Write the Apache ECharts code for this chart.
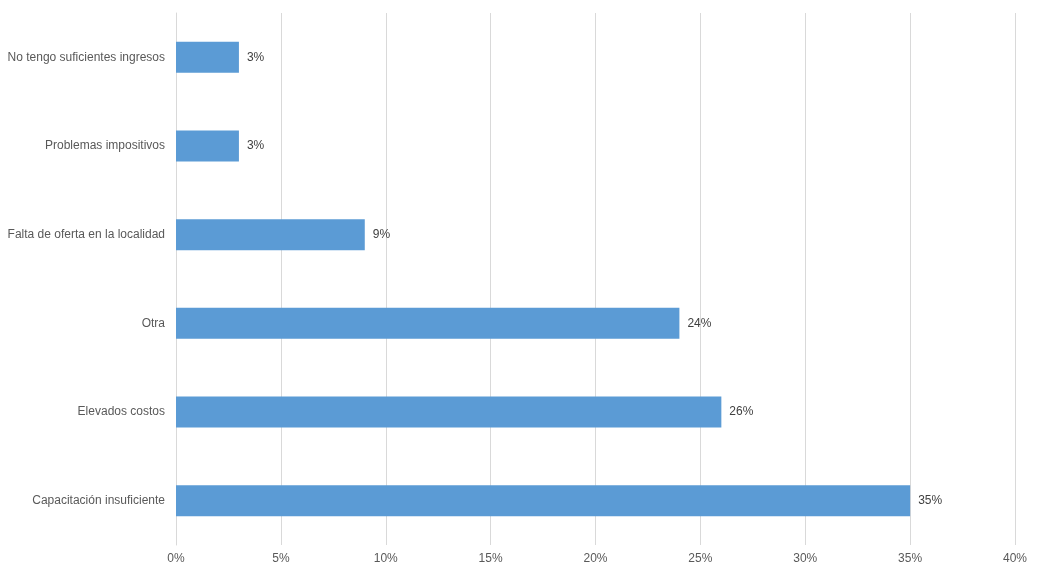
<!DOCTYPE html>
<html>
<head>
<meta charset="utf-8">
<script src="https://cdn.jsdelivr.net/npm/echarts@6/dist/echarts.min.js"></script>
<style>
html,body{margin:0;padding:0;background:#fff;}
#chart{width:1040px;height:573px;}
</style>
</head>
<body>
<div id="chart"></div>
<script>
const categories = [
  "No tengo suficientes ingresos",
  "Problemas impositivos",
  "Falta de oferta en la localidad",
  "Otra",
  "Elevados costos",
  "Capacitación insuficiente"
];
const values = [3, 3, 9, 24, 26, 35];
const xTicks = { min: 0, max: 40, interval: 5 };

const chart = echarts.init(document.getElementById('chart'), null, {renderer: 'canvas'});
const font = 'Liberation Sans, Arial, sans-serif';
chart.setOption({
  animation: false,
  grid: { left: 176, right: 25, top: 13, bottom: 28, containLabel: false },
  xAxis: {
    type: 'value',
    min: xTicks.min, max: xTicks.max, interval: xTicks.interval,
    axisLine: { show: false },
    axisTick: { show: false },
    splitLine: { show: true, lineStyle: { color: '#D9D9D9', width: 1 } },
    axisLabel: { formatter: '{value}%', color: '#595959', fontSize: 12, fontFamily: font, margin: 8 }
  },
  yAxis: {
    type: 'category',
    data: categories,
    inverse: true,
    axisLine: { show: true, lineStyle: { color: '#D9D9D9', width: 1 } },
    axisTick: { show: false },
    axisLabel: { color: '#595959', fontSize: 12, fontFamily: font, margin: 11 }
  },
  series: [{
    type: 'bar',
    data: values,
    barWidth: 31,
    itemStyle: { color: '#5B9BD5' },
    label: {
      show: true, position: 'right', distance: 8,
      formatter: '{c}%', color: '#404040', fontSize: 12, fontFamily: font
    }
  }]
});
</script>
</body>
</html>
